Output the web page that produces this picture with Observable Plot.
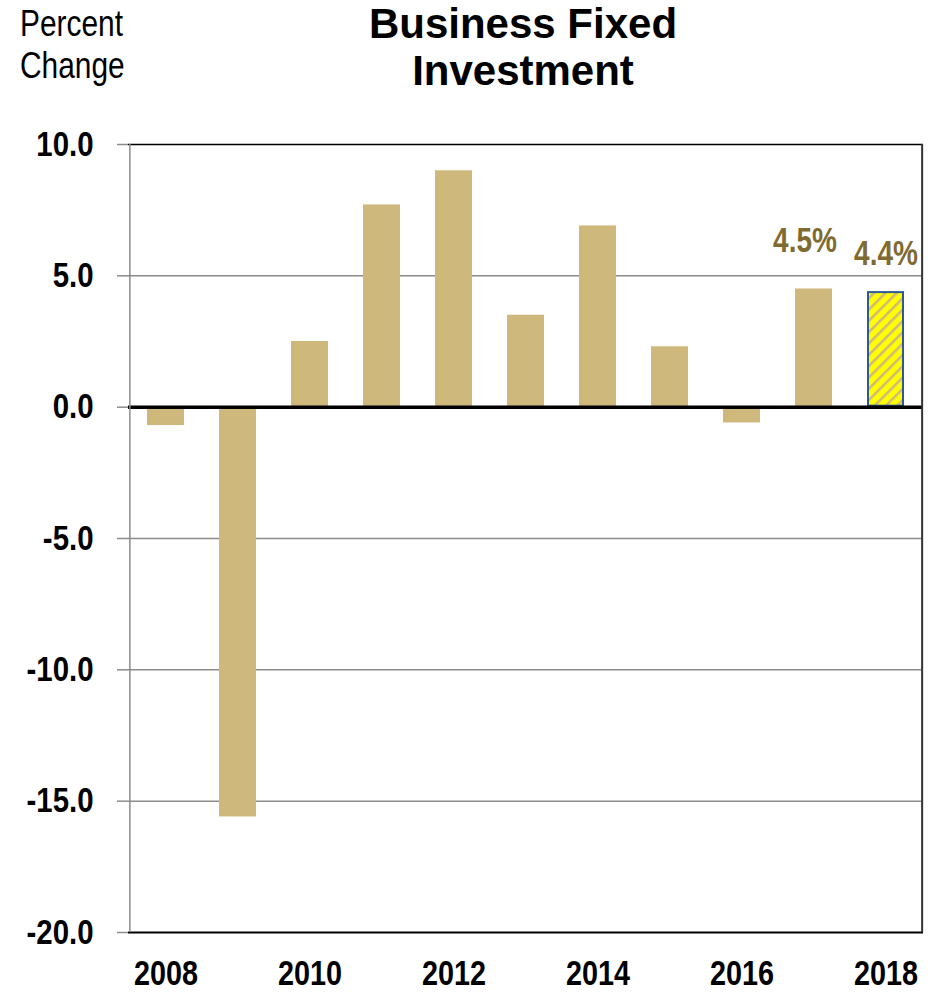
<!DOCTYPE html>
<html><head><meta charset="utf-8">
<script src="https://cdn.jsdelivr.net/npm/d3@7"></script>
<script src="https://cdn.jsdelivr.net/npm/@observablehq/plot@0.6"></script>
<style>
body{margin:0;background:#fff;}
#wrap{position:relative;width:936px;height:992px;overflow:hidden;}
#units{position:absolute;left:20px;top:3px;font-family:"Liberation Sans",Arial,sans-serif;font-size:36px;line-height:42px;color:#000;transform:scaleX(0.83);transform-origin:0 0;white-space:nowrap;}
#title{position:absolute;left:220px;width:606px;top:0px;text-align:center;font-family:"Liberation Sans",Arial,sans-serif;font-weight:bold;font-size:42px;line-height:47px;color:#000;}
#chart{position:absolute;left:0;top:0;}
</style></head><body>
<div id="wrap">
<div id="chart"></div>
<div id="units">Percent<br>Change</div>
<div id="title">Business Fixed<br>Investment</div>
</div>
<script>
const years = ["2008","2009","2010","2011","2012","2013","2014","2015","2016","2017","2018"];
const values = [-0.7, -15.6, 2.5, 7.7, 9.0, 3.5, 6.9, 2.3, -0.6, 4.5, 4.4];
const isForecast = [false,false,false,false,false,false,false,false,false,false,true];
const yTicks = [-20, -15, -10, -5, 0, 5, 10];
const gridValues = [-15, -10, -5, 5];
const xTickLabels = ["2008","2010","2012","2014","2016","2018"];
const labelYears = ["2017","2018"];
const labelValues = [4.5, 4.4];
const labelTexts = ["4.5%","4.4%"];

const bars = years.map((y,i)=>({year:y, value:values[i], forecast:isForecast[i]}));
const labels = labelYears.map((y,i)=>({year:y, value:labelValues[i], text:labelTexts[i]}));

const W = 936, ML = 128, MR = 13;
const step = (W - ML - MR) / years.length;
const tan = "#CFB87C";

const chart = Plot.plot({
  width: W,
  height: 992,
  marginTop: 144,
  marginBottom: 60,
  marginLeft: ML,
  marginRight: MR,
  style: {fontFamily: '"Liberation Sans",Arial,sans-serif', background: "#fff", color:"#000"},
  x: {domain: years, paddingInner: 0.49, paddingOuter: 0.245, align: 0.5},
  y: {domain: [-20, 10]},
  marks: [
    Plot.ruleY(gridValues, {stroke: "#8c8c8c", strokeWidth: 1.5}),
    Plot.barY(bars.filter(d=>!d.forecast), {x:"year", y:"value", fill: tan}),
    Plot.barY(bars.filter(d=>d.forecast), {x:"year", y:"value", fill: "url(#hatch)", stroke:"#2E5A94", strokeWidth:2, inset:1}),
    Plot.ruleY([0], {stroke:"#000", strokeWidth:3.5}),
    Plot.ruleY([10], {stroke:"#000", strokeWidth:1.5}),
    Plot.ruleY([-20], {stroke:"#000", strokeWidth:2}),
    Plot.ruleX([years[years.length-1]], {stroke:"#333", strokeWidth:2, dx: step/2, y1:-20, y2:10}),
    Plot.axisY({ticks: yTicks, tickFormat: d => d.toFixed(1), tickSize: 11, tickPadding: 24, stroke:"#8c8c8c", strokeWidth:1.5, fontSize: 35, fontWeight:"bold", label:null}),
    Plot.ruleX([years[0]], {stroke:"#8c8c8c", strokeWidth:1.5, dx:-step/2, y1:-20, y2:10}),
    Plot.axisX({ticks: xTickLabels, tickSize: 0, tickPadding: 27, fontSize: 36, fontWeight:"bold", label:null}),
    Plot.text(labels.filter(d=>d.year==="2017"), {x:"year", y:"value", text:"text", fill:"#7F6A31", fontSize:35, fontWeight:"bold", lineAnchor:"bottom", dy:-37, dx:-9}),
    Plot.text(labels.filter(d=>d.year==="2018"), {x:"year", y:"value", text:"text", fill:"#7F6A31", fontSize:35, fontWeight:"bold", lineAnchor:"bottom", dy:-27})
  ]
});

const ns = "http://www.w3.org/2000/svg";
const defs = document.createElementNS(ns, "defs");
defs.innerHTML = `<pattern id="hatch" patternUnits="userSpaceOnUse" width="8" height="8" patternTransform="rotate(45)">
<rect width="8" height="8" fill="#FFFF00"/><rect x="0" y="0" width="2.5" height="8" fill="${tan}"/></pattern>`;
chart.insertBefore(defs, chart.firstChild);

// condense all chart text horizontally (narrow typeface look)
chart.querySelectorAll("text").forEach(el => {
  const s = el.closest("[aria-label='y-axis tick label']") ? 0.84 : 0.8;
  const t = el.getAttribute("transform");
  if (t) {
    el.setAttribute("transform", t + ` scale(${s},1)`);
  } else {
    const x = +(el.getAttribute("x") || 0), y = +(el.getAttribute("y") || 0);
    el.removeAttribute("x"); el.removeAttribute("y");
    el.setAttribute("transform", `translate(${x},${y}) scale(${s},1)`);
  }
});
document.getElementById("chart").appendChild(chart);
</script>
</body></html>
